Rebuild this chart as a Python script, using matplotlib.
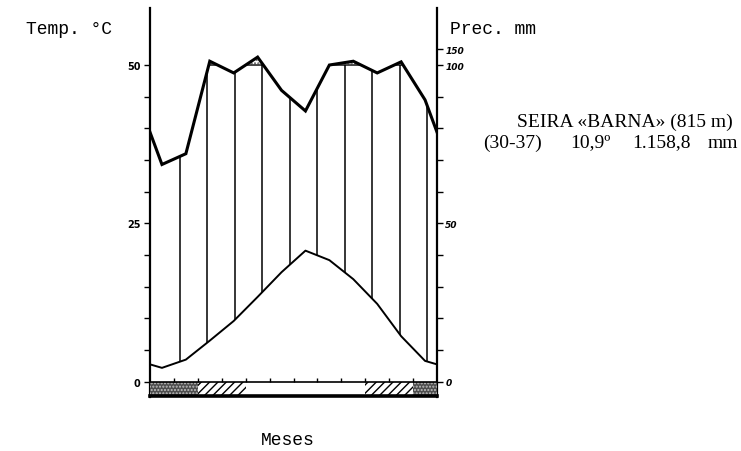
import numpy as np
import matplotlib
matplotlib.use('Agg')
import matplotlib.pyplot as plt
from matplotlib.patches import Rectangle

# ---------------- data ----------------
months = ['Ene', 'Feb', 'Mar', 'Abr', 'May', 'Jun', 'Jul', 'Ago', 'Sep', 'Oct', 'Nov', 'Dic']
temp = [2.2, 3.5, 6.5, 9.6, 13.4, 17.3, 20.7, 19.2, 16.2, 12.3, 7.2, 3.3]          # ºC
prec = [68.6, 72.0, 112.0, 97.5, 125.0, 92.0, 85.5, 100.0, 112.0, 97.5, 110.0, 89.0]  # mm
frost = ['segura', 'segura', 'probable', 'probable', 'libre', 'libre', 'libre',
         'libre', 'libre', 'probable', 'probable', 'segura']
temp_ticks = [0, 25, 50]
prec_ticks = [0, 50, 100, 150]
station = 'SEIRA «BARNA» (815 m)'
period = '(30-37)'
mean_temp = '10,9º'
total_prec = '1.158,8'
prec_unit = 'mm'

W, H = 741, 452


def p2y(p):
    p = np.asarray(p, dtype=float)
    return np.where(p <= 100, p / 2.0, 50 + (p - 100) / 20.0)


fig = plt.figure(figsize=(W / 100, H / 100), dpi=100)
ax = fig.add_axes([150 / W, 1 - 398 / H, 287 / W, 389 / H])
ax.set_xlim(0, 12)
ax.set_ylim(-2.4, 59)

n = len(months)
xs = np.concatenate([[0], np.arange(n) + 0.5, [n]])
t_edge = (temp[0] + temp[-1]) / 2
p_edge = (prec[0] + prec[-1]) / 2
t_line = np.array([t_edge] + temp + [t_edge])
p_line = p2y([p_edge] + prec + [p_edge])

# fine grid for fills
xf = np.linspace(0, n, 2000)
pf = np.interp(xf, xs, p_line)

# stipple above 100 mm
ax.fill_between(xf, 50, pf, where=pf > 50, interpolate=True, facecolor='white',
                hatch='.....', edgecolor='0.35', linewidth=0, zorder=2)
ax.plot(xf, np.ma.masked_where(pf <= 50, np.full_like(xf, 50)), color='black', lw=1.0, zorder=3)

# vertical hatching of the humid period
hx = np.arange(1.25, 11.7, 1.15)
hb = np.interp(hx, xs, t_line)
ht = np.minimum(np.interp(hx, xs, p_line), 50)
ax.vlines(hx, hb, ht, color='black', lw=1.1, zorder=2)

# curves
ax.plot(xs, p_line, color='black', lw=2.2, solid_joinstyle='miter', zorder=4)
ax.plot(xs, t_line, color='black', lw=1.4, zorder=4)

# frost bar
bar_h = 2.2
styles = {
    'segura': dict(facecolor='0.3', hatch='.....', edgecolor='0.75'),
    'probable': dict(facecolor='white', hatch='////', edgecolor='black'),
    'libre': dict(facecolor='white', hatch=None, edgecolor='white'),
}
for i, f in enumerate(frost):
    ax.add_patch(Rectangle((i, -bar_h), 1, bar_h, linewidth=0, zorder=3, clip_on=False, **styles[f]))
ax.plot([0, n], [0, 0], color='black', lw=1.2, zorder=4)
ax.plot([0, n], [-bar_h, -bar_h], color='black', lw=2.6, zorder=4, clip_on=False)
ax.vlines(np.arange(1, n), 0, 0.6, color='black', lw=1.0, zorder=4)

# axes styling
for s in ['top', 'bottom']:
    ax.spines[s].set_visible(False)
for s in ['left', 'right']:
    ax.spines[s].set_linewidth(1.6)
ax.set_xticks([])
yt = np.arange(0, 51, 5)
ax.set_yticks(yt)
ax.set_yticklabels([str(v) if v in temp_ticks else '' for v in yt],
                   fontdict=dict(family='DejaVu Sans', weight='bold', size=7))
ax.tick_params(axis='y', direction='out', length=4, width=1.0, pad=3)

ax2 = ax.twinx()
ax2.set_ylim(ax.get_ylim())
for s in ['top', 'bottom', 'left', 'right']:
    ax2.spines[s].set_visible(False)
pt = list(range(0, 101, 10)) + [150]
ax2.set_yticks(p2y(pt))
ax2.set_yticklabels([str(v) if v in prec_ticks else '' for v in pt],
                    fontdict=dict(family='DejaVu Sans', weight='bold', size=6.5, style='italic'))
ax2.tick_params(axis='y', direction='out', length=4, width=1.0, pad=2)


def ftext(x, y, s, **kw):
    fig.text(x / W, 1 - y / H, s, **kw)


mono = dict(family='Liberation Mono', size=13, va='center')
ftext(26, 30, 'Temp. °C', ha='left', **mono)
ftext(450, 30, 'Prec. mm', ha='left', **mono)
ftext(288, 441, 'Meses', ha='center', **mono)

serif = dict(family='Liberation Serif', size=14, va='center')
ftext(625, 122, station, ha='center', **serif)
ftext(483, 143, period, ha='left', **serif)
ftext(570, 143, mean_temp, ha='left', **serif)
ftext(632, 143, total_prec, ha='left', **serif)
ftext(738, 143, prec_unit, ha='right', **serif)

fig.savefig('out.png', dpi=100)
